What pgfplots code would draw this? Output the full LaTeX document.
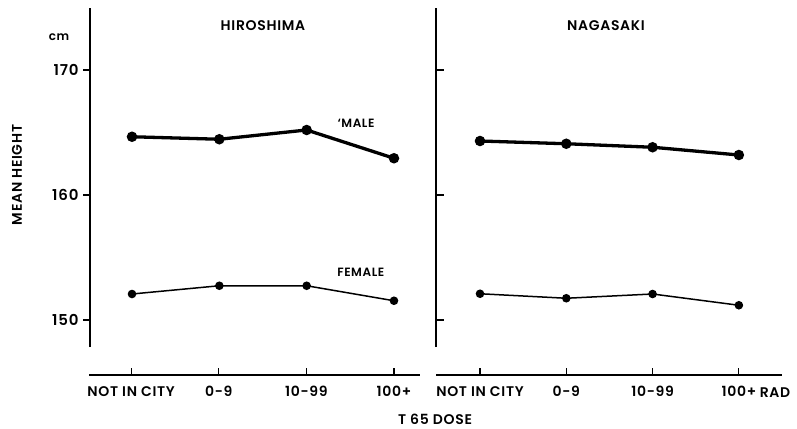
\documentclass[border=0pt]{standalone}
\usepackage{fontspec}
\setmainfont{Poppins}[UprightFont={* SemiBold}, LetterSpace=5]
\usepackage{pgfplots}
\pgfplotsset{compat=1.18}
\newcommand{\lab}{\fontsize{14}{16}\selectfont}
\begin{document}
\begin{tikzpicture}
\path[use as bounding box] (0pt,0pt) rectangle (797pt,-428pt);
\pgfplotsset{
  every axis/.append style={scale only axis, clip=false, anchor=south west,
    /pgf/number format/assume math mode=true,
    tick style={black, line width=1.2pt},
    ticklabel style={font=\lab},
  },
  male/.style={black, line width=3.3pt, mark=*, mark size=3.5pt, mark options={solid}},
  female/.style={black, line width=1.5pt, mark=*, mark size=3.5pt},
}
% ---------- Hiroshima main ----------
\begin{axis}[at={(90pt,-347pt)}, width=330pt, height=339pt,
  xmin=-0.481, xmax=3.298, ymin=147.84, ymax=174.96,
  axis x line=none, axis y line*=left,
  y axis line style={line width=2.5pt, -},
  ytick={150,160,170}, tick align=outside, major tick length=7pt,
  yticklabel style={xshift=-1pt, font=\fontsize{15}{17}\selectfont}]
\addplot[male] coordinates {(0,164.66) (1,164.46) (2,165.20) (3,162.94)};
\addplot[female] coordinates {(0,152.08) (1,152.74) (2,152.74) (3,151.54)};
\node[font=\fontsize{12}{14}\selectfont] at (axis cs:2.565,165.76) {`MALE};
\node[font=\fontsize{12}{14}\selectfont] at (axis cs:2.62,153.84) {FEMALE};
\node[font=\fontsize{14}{16}\selectfont] at (axis cs:1.5,173.52) {HIROSHIMA};
\end{axis}
% ---------- Nagasaki main ----------
\begin{axis}[at={(436pt,-347pt)}, width=346pt, height=339pt,
  xmin=-0.51, xmax=3.50, ymin=147.84, ymax=174.96,
  axis x line=none, axis y line*=left,
  y axis line style={line width=2.5pt, -},
  ytick={150,160,170}, yticklabels={}, tick align=inside, major tick length=8pt]
\addplot[male] coordinates {(0,164.32) (1,164.10) (2,163.82) (3,163.20)};
\addplot[female] coordinates {(0,152.10) (1,151.74) (2,152.08) (3,151.18)};
\node[font=\fontsize{14}{16}\selectfont] at (axis cs:1.46,173.52) {NAGASAKI};
\end{axis}
% ---------- bottom x axes ----------
\begin{axis}[at={(89pt,-375pt)}, width=331pt, height=10pt,
  xmin=-0.481, xmax=3.298, ymin=0, ymax=1,
  hide y axis, axis x line*=bottom,
  x axis line style={line width=1.8pt, -},
  xtick={0,1,2,3}, xticklabels={NOT IN CITY,0-9,10-99,100+},
  tick align=inside, major tick length=7pt,
  xticklabel style={yshift=-8pt}]
\addplot[draw=none] coordinates {(0,0) (3,0)};
\end{axis}
\begin{axis}[at={(436pt,-375pt)}, width=346pt, height=10pt,
  xmin=-0.51, xmax=3.50, ymin=0, ymax=1,
  hide y axis, axis x line*=bottom,
  x axis line style={line width=1.8pt, -},
  xtick={0,1,2,3}, xticklabels={NOT IN CITY,0-9,10-99,100+},
  tick align=inside, major tick length=7pt,
  xticklabel style={yshift=-8pt}]
\addplot[draw=none] coordinates {(0,0) (3,0)};
\end{axis}
\node[font=\lab] at (775pt,-393pt) {RAD};
\node[font=\lab, inner sep=0.5pt] at (435pt,-419pt) {T 65 DOSE};
\node[font=\fontsize{12}{14}\selectfont] at (59pt,-37pt) {cm};
\node[font=\lab, rotate=90] at (17pt,-175pt) {MEAN HEIGHT};
\end{tikzpicture}
\end{document}
